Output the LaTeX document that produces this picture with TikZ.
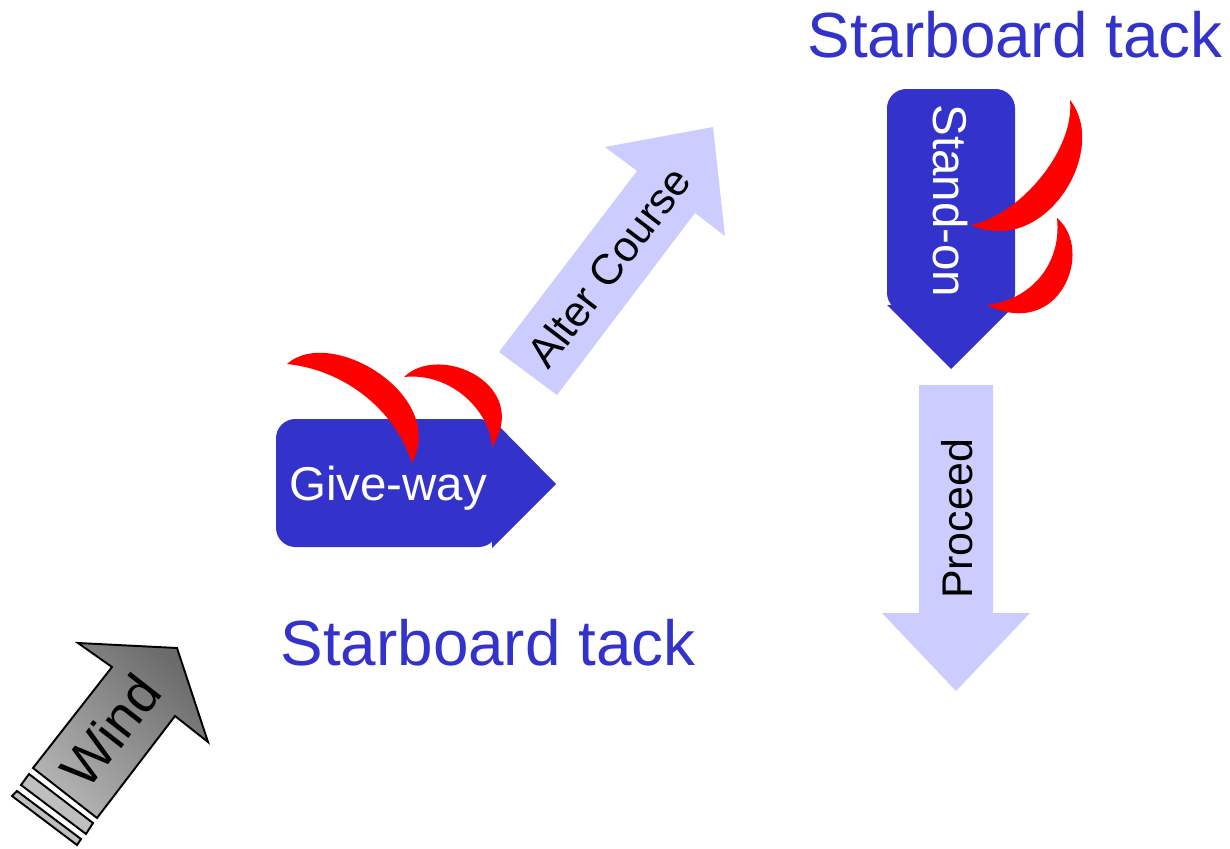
\documentclass[tikz,border=0pt]{standalone}
\usepackage{fontspec}
\setmainfont{Liberation Sans}
\definecolor{boatblue}{HTML}{3333CC}
\definecolor{lightblue}{HTML}{CCCCFF}
\tikzset{
    boat/.style={fill=boatblue, draw=none},
    sail/.style={fill=red, draw=none},
    course/.style={fill=lightblue, draw=none},
    windline/.style={draw=black, line width=0.55pt, line join=miter},
    tacklabel/.style={text=boatblue, font=\fontsize{18.15}{20}\selectfont, inner sep=0pt, anchor=base},
    boatlabel/.style={text=white, font=\fontsize{13.5}{15}\selectfont, inner sep=0pt, anchor=base},
    courselabel/.style={text=black, font=\fontsize{12.2}{14}\selectfont, inner sep=0pt, anchor=base}
}
\begin{document}
\begin{tikzpicture}[x=0.01cm, y=-0.01cm]
    \useasboundingbox (0, 0) rectangle (1230, 848);

    \fill[course] (713, 127) -- (605, 147) -- (637, 171) -- (499, 352) -- (557, 395) -- (695, 213) -- (725, 236) -- cycle;
    \fill[course] (919, 385) -- (993, 385) -- (993, 613) -- (1030, 613) -- (956, 691) -- (882, 613) -- (919, 613) -- cycle;

    \fill[boat, rounded corners=5.5pt] (276, 419) rectangle (498, 547);
    \fill[boat] (492, 419) -- (556, 484) -- (492, 548) -- cycle;
    \fill[boat, rounded corners=5.5pt] (887, 89) rectangle (1015, 312);
    \fill[boat] (887, 305) -- (951, 369) -- (1015, 305) -- cycle;

    \fill[sail] (287, 364) .. controls (330, 325) and (448, 395) .. (412, 463) .. controls (395, 410) and (345, 370) .. (287, 364) -- cycle;
    \fill[sail] (404, 377) .. controls (440, 342) and (532, 385) .. (492, 447) .. controls (490, 410) and (450, 372) .. (404, 377) -- cycle;
    \fill[sail] (1070, 100) .. controls (1110, 150) and (1045, 258) .. (971, 225) .. controls (1020, 215) and (1075, 150) .. (1070, 100) -- cycle;
    \fill[sail] (1057, 218) .. controls (1095, 250) and (1060, 341) .. (987, 305) .. controls (1030, 300) and (1062, 265) .. (1057, 218) -- cycle;

    \shade[windline, top color=black!58, bottom color=black!30, shading angle=-45] (177, 648) -- (78, 643) -- (112, 667) -- (33, 768) -- (97, 818) -- (175, 716) -- (208, 742) -- cycle;
    \filldraw[windline, fill=black!25] (29, 774) -- (93, 823) -- (86, 834) -- (21, 785) -- cycle;
    \filldraw[windline, fill=black!25] (17, 791) -- (81, 839) -- (77, 845) -- (12, 796) -- cycle;

    \node (TackTop) at (1015, 57) [tacklabel] {Starboard tack};
    \node (TackLow) at (488, 665) [tacklabel] {Starboard tack};
    \node (GiveWay) at (388, 500) [boatlabel] {Give-way};
    \node (StandOn) at (933, 201) [boatlabel, rotate=-90] {Stand-on};
    \node (Alter) at (621, 276) [courselabel, rotate=52.7] {Alter Course};
    \node (Proceed) at (972, 519) [courselabel, rotate=90] {Proceed};
    \node (Wind) at (126, 743) [courselabel, rotate=52, font=\fontsize{15.5}{17}\selectfont] {Wind};
\end{tikzpicture}
\end{document}
